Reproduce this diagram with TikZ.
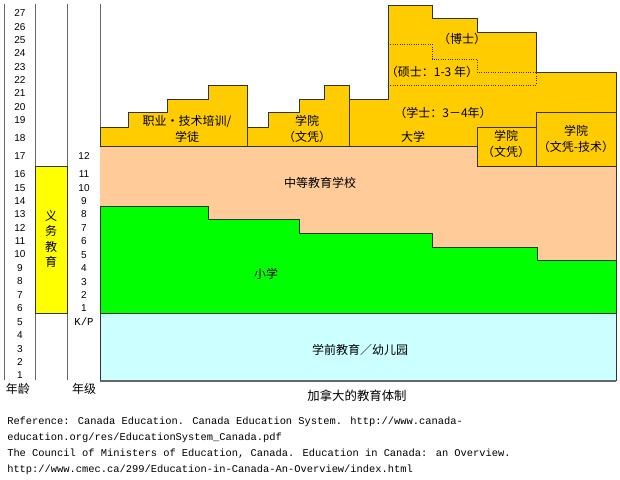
\documentclass[tikz,border=0pt]{standalone}
\usepackage{fontspec}
\setmainfont{Liberation Sans}
\newfontfamily\cjk{Noto Sans CJK SC}
\newfontfamily\refmono{Liberation Mono}
\definecolor{gold}{HTML}{FFCC00}
\definecolor{peach}{HTML}{FFCC99}
\definecolor{lime}{HTML}{00FF00}
\definecolor{icecyan}{HTML}{CCFFFF}
\definecolor{duty}{HTML}{FFFF00}
\tikzset{
    band/.style={draw=black!80, line width=0.75pt},
    axisline/.style={draw=black!60, line width=0.75pt},
    numlabel/.style={font=\fontsize{7.5}{8}\selectfont, inner sep=0pt},
    zhlabel/.style={font=\cjk\fontsize{9}{11.5}\selectfont, align=center, inner sep=0pt},
    reftext/.style={font=\refmono\fontsize{7.8}{11.6}\selectfont, anchor=north west, align=left, inner sep=0pt}
}
\begin{document}
\begin{tikzpicture}[x=0.75pt, y=-0.75pt]
    \useasboundingbox (0, 0) rectangle (620, 479);
    % axis lines
    \foreach \x in {4, 35, 67, 100} \draw[axisline] (\x, 4) -- (\x, 380);
    \draw[band, fill=duty] (35, 166) rectangle (67, 313);
    \node[zhlabel, font=\cjk\fontsize{9}{11.5}\selectfont] (duty) at (51, 239) {义\\务\\教\\育};
    % ages and grades
    \foreach \a/\y in {27/13, 26/27, 25/40, 24/53, 23/67, 22/80, 21/93, 20/107, 19/120, 18/138, 17/156, 16/174, 15/188, 14/201, 13/214, 12/228, 11/241, 10/254, 9/268, 8/281, 7/295, 6/308, 5/322, 4/335, 3/349, 2/362, 1/375}
        \node[numlabel] (age\a) at (20, \y) {\a};
    \foreach \g/\y in {12/156, 11/174, 10/188, 9/201, 8/214, 7/228, 6/241, 5/255, 4/268, 3/282, 2/295, 1/308}
        \node[numlabel] (grade\g) at (84, \y) {\g};
    \node[numlabel, font=\refmono\fontsize{8}{8}\selectfont] (gradekp) at (84, 322) {K/P};
    \node[zhlabel] (agename) at (18, 389) {年龄};
    \node[zhlabel] (gradename) at (84, 389) {年级};
    % school bands
    \fill[peach] (100, 146) rectangle (616, 313);
    \draw[band] (616, 166) -- (616, 313);
    \draw[band, fill=lime] (100, 206) -- (208, 206) -- (208, 219) -- (299, 219) -- (299, 233) -- (432, 233) -- (432, 247) -- (537, 247) -- (537, 260) -- (616, 260) -- (616, 313) -- (100, 313) -- cycle;
    \draw[band, fill=icecyan] (100, 313) rectangle (616, 380);
    \draw[draw=black!60, line width=1.5pt] (100, 380.5) -- (616, 380.5);
    % post-secondary
    \draw[band, fill=gold] (100, 146) -- (100, 127) -- (128, 127) -- (128, 112) -- (167, 112) -- (167, 99) -- (208, 99) -- (208, 85) -- (247, 85) -- (247, 146) -- cycle;
    \draw[band, fill=gold] (247, 146) -- (247, 127) -- (268, 127) -- (268, 112) -- (299, 112) -- (299, 99) -- (324, 99) -- (324, 85) -- (349, 85) -- (349, 146) -- cycle;
    \draw[band, fill=gold] (349, 146) -- (349, 99) -- (388, 99) -- (388, 5) -- (432, 5) -- (432, 18) -- (477, 18) -- (477, 32) -- (536, 32) -- (536, 72) -- (616, 72) -- (616, 112) -- (536, 112) -- (536, 127) -- (477, 127) -- (477, 146) -- cycle;
    \draw[black!80, line width=0.75pt, densely dotted] (388, 44) -- (432, 44) -- (432, 59) -- (477, 59) -- (477, 72) -- (536, 72) -- (536, 85) -- (388, 85);
    \draw[band, fill=gold] (477, 127) rectangle (536, 166);
    \draw[band, fill=gold] (536, 112) rectangle (616, 166);
    % labels
    \node[zhlabel] (trade) at (187, 129) {职业·技术培训/\\学徒};
    \node[zhlabel] (college) at (307, 129) {学院\\（文凭）};
    \node[zhlabel] (phd) at (462, 39) {（博士）};
    \node[zhlabel] (master) at (432, 72) {（硕士：1-3 年）};
    \node[zhlabel] (bachelor) at (443, 113) {（学士：3－4年）};
    \node[zhlabel] (univ) at (413, 137) {大学};
    \node[zhlabel] (college2) at (506, 144) {学院\\（文凭）};
    \node[zhlabel] (college3) at (576, 139) {学院\\（文凭-技术）};
    \node[zhlabel] (secondary) at (320, 183) {中等教育学校};
    \node[zhlabel] (primary) at (266, 274) {小学};
    \node[zhlabel] (preschool) at (360, 350) {学前教育／幼儿园};
    \node[zhlabel, font=\cjk\fontsize{9.3}{12}\selectfont] (title) at (357, 396) {加拿大的教育体制};
    % references
    \node[reftext] (ref1) at (7, 417) {Reference: Canada Education. Canada Education System. http://www.canada-\\education.org/res/EducationSystem\_Canada.pdf};
    \node[reftext] (ref2) at (7, 449) {The Council of Ministers of Education, Canada. Education in Canada: an Overview.\\http://www.cmec.ca/299/Education-in-Canada-An-Overview/index.html};
\end{tikzpicture}
\end{document}
